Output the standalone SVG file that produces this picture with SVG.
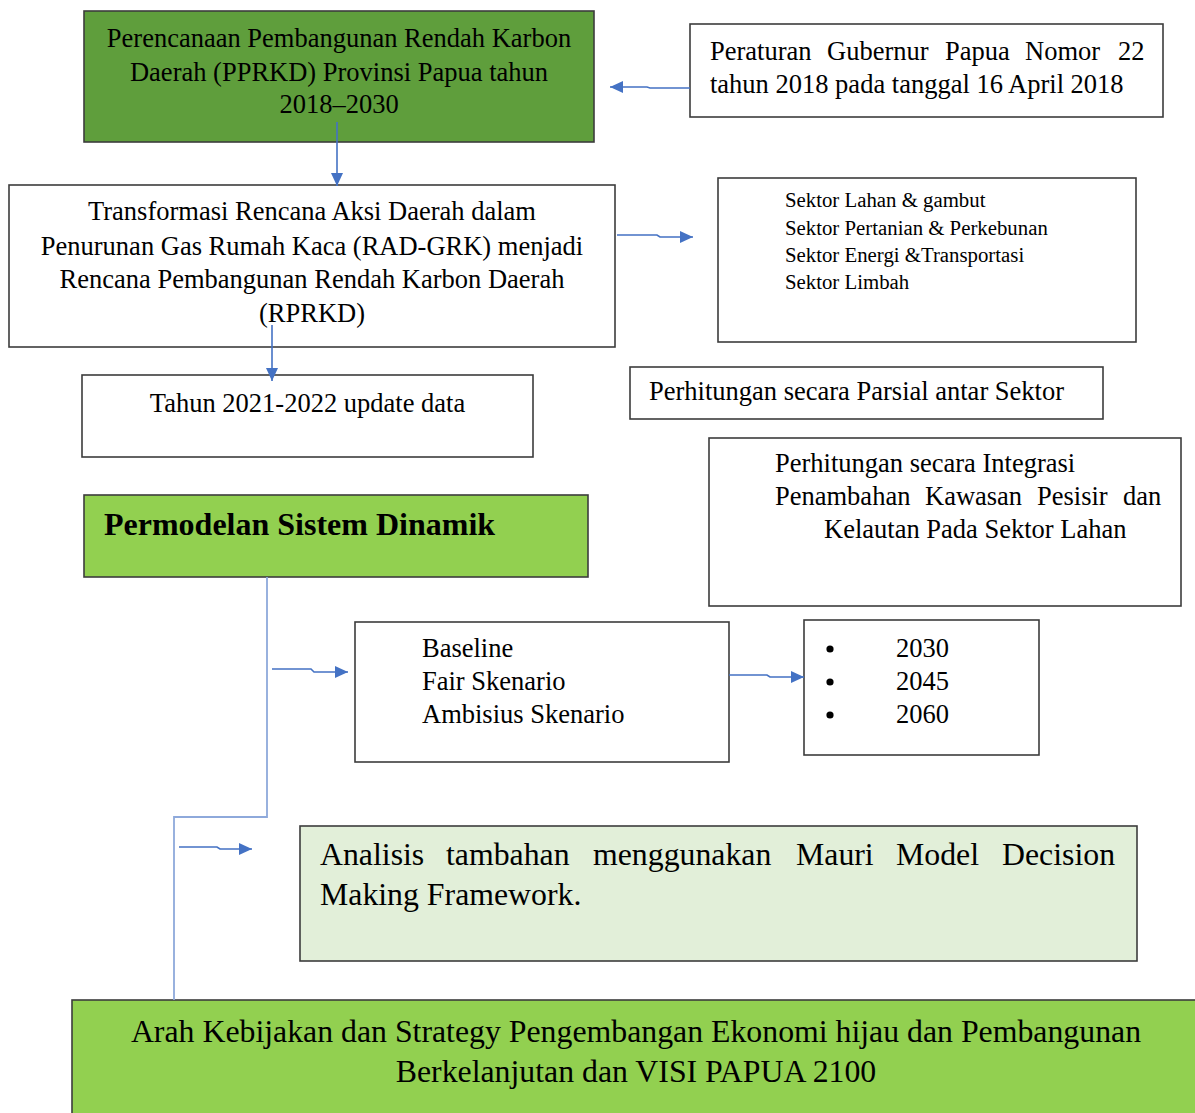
<svg xmlns="http://www.w3.org/2000/svg" width="1195" height="1113" viewBox="0 0 1195 1113">
<defs>
<marker id="ah" markerUnits="userSpaceOnUse" markerWidth="14" markerHeight="12" refX="13" refY="6" orient="auto">
<path d="M0,0 L13,6 L0,12 z" fill="#4472c4"/>
</marker>
<style>
.box{fill:#ffffff;stroke:#3c3c3c;stroke-width:1.6}
.dg{fill:#5f9e3c;stroke:#3c3c3c;stroke-width:1.6}
.lg{fill:#92d050;stroke:#3c3c3c;stroke-width:1.6}
.pg{fill:#e2efd9;stroke:#3c3c3c;stroke-width:1.6}
text{font-family:"Liberation Serif","Times New Roman",serif;fill:#000}
.t26{font-size:26.5px}
.t21{font-size:20.8px}
.t32{font-size:31.8px}
.b{font-weight:bold;font-size:32px}
.c{text-anchor:middle}
.ar{fill:none;stroke:#4472c4;stroke-width:1.6}
.sp{fill:none;stroke:#8ea9db;stroke-width:1.8}
</style>
</defs>
<rect width="1195" height="1113" fill="#ffffff"/>

<g id="n-pprkd">
<rect class="dg" x="84" y="11" width="510" height="131"/>
<text class="t26 c" x="339" y="47">Perencanaan Pembangunan Rendah Karbon</text>
<text class="t26 c" x="339" y="81">Daerah (PPRKD) Provinsi Papua tahun</text>
<text class="t26 c" x="339" y="113">2018–2030</text>
</g>

<g id="n-pergub">
<rect class="box" x="690" y="24" width="473" height="93"/>
<text class="t26" y="60"><tspan x="710">Peraturan</tspan><tspan x="827">Gubernur</tspan><tspan x="945">Papua</tspan><tspan x="1025">Nomor</tspan><tspan x="1118">22</tspan></text>
<text class="t26" x="710" y="93">tahun 2018 pada tanggal 16 April 2018</text>
</g>

<g id="n-transformasi">
<rect class="box" x="9" y="185" width="606" height="162"/>
<text class="t26 c" x="312" y="220">Transformasi Rencana Aksi Daerah dalam</text>
<text class="t26 c" x="312" y="255">Penurunan Gas Rumah Kaca (RAD-GRK) menjadi</text>
<text class="t26 c" x="312" y="288">Rencana Pembangunan Rendah Karbon Daerah</text>
<text class="t26 c" x="312" y="322">(RPRKD)</text>
</g>

<g id="n-sektor">
<rect class="box" x="718" y="178" width="418" height="164"/>
<text class="t21" x="785" y="207">Sektor Lahan &amp; gambut</text>
<text class="t21" x="785" y="235">Sektor Pertanian &amp; Perkebunan</text>
<text class="t21" x="785" y="262">Sektor Energi &amp;Transportasi</text>
<text class="t21" x="785" y="289">Sektor Limbah</text>
</g>

<g id="n-tahun">
<rect class="box" x="82" y="375" width="451" height="82"/>
<text class="t26 c" x="307.5" y="412">Tahun 2021-2022 update data</text>
</g>

<g id="n-parsial">
<rect class="box" x="630" y="367" width="473" height="52"/>
<text class="t26" x="649" y="400">Perhitungan secara Parsial antar Sektor</text>
</g>

<g id="n-integrasi">
<rect class="box" x="709" y="438" width="472" height="168"/>
<text class="t26" x="775" y="472">Perhitungan secara Integrasi</text>
<text class="t26" y="505"><tspan x="775">Penambahan</tspan><tspan x="925">Kawasan</tspan><tspan x="1037">Pesisir</tspan><tspan x="1123">dan</tspan></text>
<text class="t26" x="824" y="538">Kelautan Pada Sektor Lahan</text>
</g>

<g id="n-permodelan">
<rect class="lg" x="84" y="495" width="504" height="82"/>
<text class="b" x="104" y="535">Permodelan Sistem Dinamik</text>
</g>

<g id="n-skenario">
<rect class="box" x="355" y="622" width="374" height="140"/>
<text class="t26" x="422" y="657">Baseline</text>
<text class="t26" x="422" y="690">Fair Skenario</text>
<text class="t26" x="422" y="723">Ambisius Skenario</text>
</g>

<g id="n-tahun-target">
<rect class="box" x="804" y="620" width="235" height="135"/>
<circle cx="830" cy="649" r="3.6" fill="#000"/>
<circle cx="830" cy="682" r="3.6" fill="#000"/>
<circle cx="830" cy="715" r="3.6" fill="#000"/>
<text class="t26" x="896" y="657">2030</text>
<text class="t26" x="896" y="690">2045</text>
<text class="t26" x="896" y="723">2060</text>
</g>

<g id="n-analisis">
<rect class="pg" x="300" y="826" width="837" height="135"/>
<text class="t32" y="865"><tspan x="320">Analisis</tspan><tspan x="446">tambahan</tspan><tspan x="593">menggunakan</tspan><tspan x="796">Mauri</tspan><tspan x="896">Model</tspan><tspan x="1002">Decision</tspan></text>
<text class="t32" x="320" y="905">Making Framework.</text>
</g>

<g id="n-arah">
<rect class="lg" x="72" y="1000" width="1130" height="120"/>
<text class="t32 c" x="636" y="1042">Arah Kebijakan dan Strategy Pengembangan Ekonomi hijau dan Pembangunan</text>
<text class="t32 c" x="636" y="1082">Berkelanjutan dan VISI PAPUA 2100</text>
</g>

<g id="connectors">
<path class="ar" d="M690,88 L650,88 L647,87 L610,87" marker-end="url(#ah)"/>
<path class="ar" d="M337,122 L337,186" marker-end="url(#ah)"/>
<path class="ar" d="M617,235 L657,235 L660,237 L693,237" marker-end="url(#ah)"/>
<path class="ar" d="M272,325 L272,381" marker-end="url(#ah)"/>
<path class="sp" d="M267,577 L267,817 L174,817 L174,1000"/>
<path class="ar" d="M272,669 L311,669 L314,672 L348,672" marker-end="url(#ah)"/>
<path class="ar" d="M729,675 L767,675 L770,677 L804,677" marker-end="url(#ah)"/>
<path class="ar" d="M179,847 L217,847 L220,849 L252,849" marker-end="url(#ah)"/>
</g>
</svg>
